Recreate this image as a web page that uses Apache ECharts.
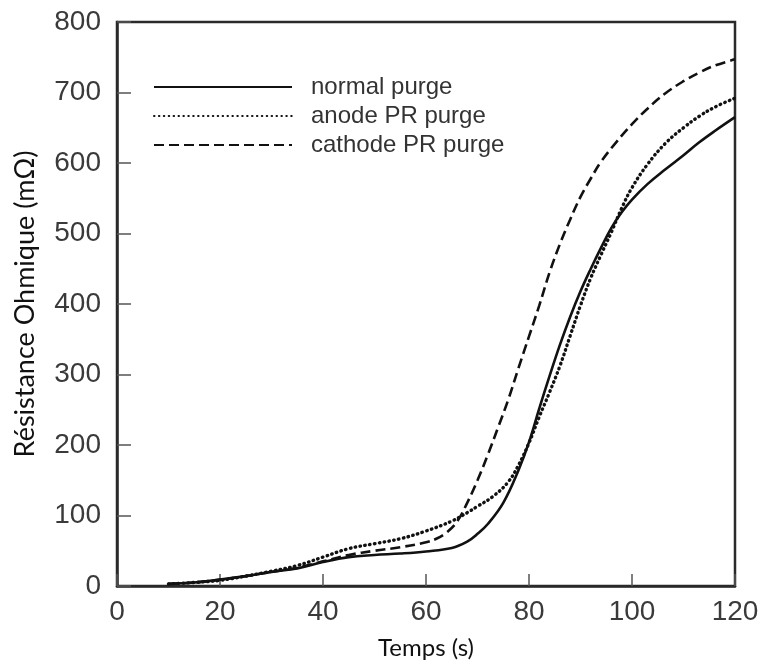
<!DOCTYPE html>
<html>
<head>
<meta charset="utf-8">
<script src="https://cdn.jsdelivr.net/npm/echarts@6/dist/echarts.min.js"></script>
<style>html,body{margin:0;padding:0;background:#fff}#c{width:763px;height:666px}</style>
</head>
<body>
<div id="c"></div>
<script>
// Data
var normalX = [10, 15, 20, 25, 30, 35, 40, 45, 50, 55, 60, 65, 68, 70, 72, 75, 78, 80, 82, 84, 86, 88, 90, 92, 94, 96, 98, 100, 103, 106.5, 110, 113, 116, 120];
var normalY = [3, 5, 9, 14, 20, 25, 34, 41, 44, 46, 49, 54, 63, 74, 88, 118, 165, 204, 252, 298, 342, 382, 418, 450, 480, 508, 530, 548, 570, 591, 611, 629, 645, 665];

var anodeX = [10, 15, 20, 25, 30, 35, 40, 45, 50, 55, 60, 65, 68, 70, 73, 76, 78, 80, 82, 84, 86, 88, 90, 92, 94, 96, 98, 100, 103, 106.5, 110, 113, 116, 120];
var anodeY = [3, 5, 8, 14, 21, 29, 41, 53, 60, 67, 78, 92, 104, 113, 127, 148, 172, 203, 240, 275, 312, 355, 398, 437, 470, 502, 536, 565, 598, 628, 650, 666, 679, 692];

var cathodeX = [10, 15, 20, 25, 30, 35, 40, 45, 50, 55, 60, 62, 64, 66, 68, 70, 72, 74, 76, 78, 80, 82, 84, 86, 88, 90, 92, 94, 97, 100, 103, 106.5, 110, 113, 116, 120];
var cathodeY = [3, 5, 9, 14, 20, 26, 35, 44, 50, 55, 62, 67, 76, 91, 118, 150, 186, 225, 265, 310, 354, 398, 445, 485, 520, 552, 578, 602, 630, 655, 677, 699, 716, 728, 738, 747];

var xTicks = [0, 20, 40, 60, 80, 100, 120];
var yTicks = [0, 100, 200, 300, 400, 500, 600, 700, 800];

var seriesNames = ['normal purge', 'anode PR purge', 'cathode PR purge'];

function pairs(xs, ys) { return xs.map(function (x, i) { return [x, ys[i]]; }); }

var chart = echarts.init(document.getElementById('c'));
var lineColor = '#111';
chart.setOption({
  animation: false,
  backgroundColor: '#fff',
  grid: { left: 117, right: 28, top: 22, bottom: 80, show: true, borderColor: '#2a2a2a', borderWidth: 2.5, backgroundColor: 'transparent' },
  legend: {
    orient: 'vertical',
    left: 148,
    top: 70,
    itemWidth: 138,
    itemHeight: 14,
    itemGap: 5,
    data: seriesNames,
    itemStyle: { opacity: 0 },
    textStyle: { fontFamily: 'Liberation Sans, Arial, sans-serif', fontSize: 24, color: '#333', padding: [0, 0, 0, 14] }
  },
  xAxis: {
    type: 'value', min: xTicks[0], max: xTicks[xTicks.length - 1], interval: 20,
    name: 'Temps (s)', nameLocation: 'middle', nameGap: 50,
    nameTextStyle: { fontFamily: 'Lato, Open Sans, sans-serif', fontSize: 24, color: '#111' },
    axisLine: { show: true, lineStyle: { color: '#2a2a2a', width: 2.5 } },
    axisTick: { show: true, inside: true, length: 12, lineStyle: { color: '#555', width: 1.5 } },
    axisLabel: { fontFamily: 'Liberation Sans, Arial, sans-serif', fontSize: 28, color: '#3a3a3a', margin: 12 },
    splitLine: { show: false }
  },
  yAxis: {
    type: 'value', min: yTicks[0], max: yTicks[yTicks.length - 1], interval: 100,
    name: 'Résistance Ohmique (mΩ)', nameLocation: 'middle', nameGap: 78, nameRotate: 90,
    nameTextStyle: { fontFamily: 'Lato, Open Sans, sans-serif', fontSize: 27, color: '#111' },
    axisLine: { show: true, lineStyle: { color: '#2a2a2a', width: 2.5 } },
    axisTick: { show: true, inside: true, length: 14, lineStyle: { color: '#555', width: 1.5 } },
    axisLabel: { fontFamily: 'Liberation Sans, Arial, sans-serif', fontSize: 28, color: '#3a3a3a', margin: 16 },
    splitLine: { show: false }
  },
  series: [
    { name: seriesNames[0], type: 'line', smooth: 0.4, symbol: 'none', data: pairs(normalX, normalY),
      itemStyle: { color: lineColor }, lineStyle: { color: lineColor, width: 2.6, type: 'solid' } },
    { name: seriesNames[1], type: 'line', smooth: 0.4, symbol: 'none', data: pairs(anodeX, anodeY),
      itemStyle: { color: lineColor }, lineStyle: { color: lineColor, width: 3.4, type: [0.5, 4.4], cap: 'round' } },
    { name: seriesNames[2], type: 'line', smooth: 0.4, symbol: 'none', data: pairs(cathodeX, cathodeY),
      itemStyle: { color: lineColor }, lineStyle: { color: lineColor, width: 2.6, type: [10, 5] } }
  ]
});
</script>
</body>
</html>
